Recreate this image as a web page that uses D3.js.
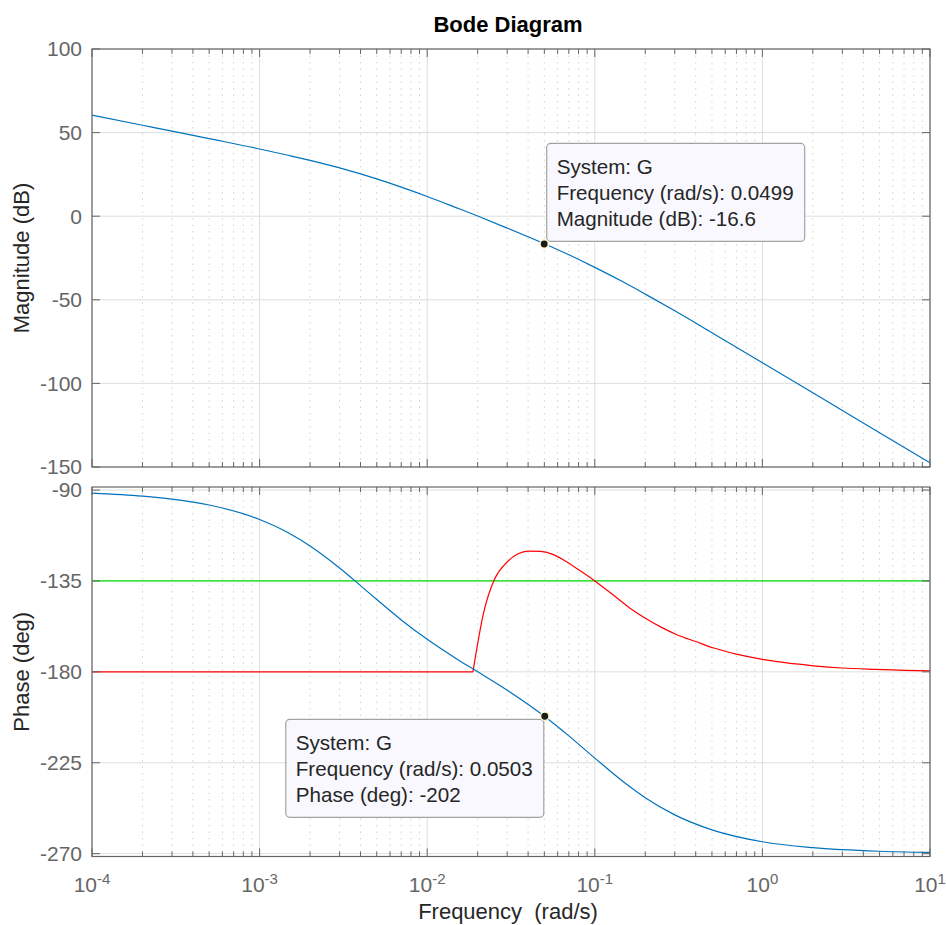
<!DOCTYPE html>
<html lang="en">
<head>
<meta charset="UTF-8" />
<title>Bode Diagram</title>
<script src="https://d3js.org/d3.v7.min.js"></script>
<style>
  body { margin: 0; background: #fff; font-family: 'Liberation Sans', Arial, sans-serif; }
  svg { display: block; }
</style>
</head>
<body>
<div id="chart"></div>
<script>
// ---- values ----
// G magnitude (dB)
const magFreq = [1e-4, 2e-4, 3e-4, 5e-4, 1e-3, 1.5e-3, 2e-3, 3e-3, 5e-3, 7e-3, 1e-2, 1.5e-2, 2e-2, 3e-2,
                 5e-2, 7e-2, 0.1, 0.15, 0.2, 0.3, 0.5, 1, 2, 3, 5, 10];
const magDb = [60.4, 54.4, 50.9, 46.4, 40.2, 36.3, 33.4, 28.9, 22.3, 17.4, 11.8, 5.0, 0.1, -7.1,
               -16.5, -23.1, -30.6, -39.7, -46.6, -56.6, -69.7, -87.6, -105.6, -116.2, -129.5, -147.5];

// G phase (deg)
const phaseFreq = [1e-4, 2e-4, 3e-4, 5e-4, 1e-3, 1.5e-3, 2e-3, 3e-3, 4e-3, 5e-3, 7e-3, 1e-2, 1.5e-2, 2e-2,
                   3e-2, 5e-2, 7e-2, 0.1, 0.15, 0.2, 0.3, 0.5, 1, 2, 5, 10];
const phaseDeg = [-91.5, -93.0, -94.5, -97.4, -104.6, -111.4, -117.7, -128.6, -137.3, -144.2, -154.3, -163.9, -173.6, -180.0,
                  -189.1, -202.0, -211.7, -222.7, -234.8, -242.3, -250.8, -258.2, -264.1, -267.0, -268.8, -269.4];

// red phase curve: flat part, then the bump from the corner on
const redFlatFreq = [1e-4, 0.01875];
const redFlatDeg = [-180, -180];
const redBumpFreq = [0.01875, 0.0217, 0.0252, 0.0297, 0.0346, 0.0403, 0.0473, 0.0556, 0.0652, 0.0819, 0.1,
                     0.13, 0.163, 0.205, 0.25, 0.309, 0.4, 0.512, 0.7, 1.0, 1.4, 2.02, 3, 4.66, 7, 10];
const redBumpDeg = [-180, -150.8, -134.2, -126.0, -121.7, -120.2, -120.4, -121.7, -124.6, -130.0, -135.0,
                    -142.2, -148.6, -154.0, -158.0, -161.6, -165.0, -168.2, -171.2, -173.8, -175.6, -177.0, -178.1, -178.8, -179.3, -179.5];

// green reference line
const refPhase = -135;

const magTicks = [100, 50, 0, -50, -100, -150];
const phaseTicks = [-90, -135, -180, -225, -270];
const decadeExps = [-4, -3, -2, -1, 0, 1];

const magTipText = ["System: G", "Frequency (rad/s): 0.0499", "Magnitude (dB): -16.6"];
const magTipPoint = [0.0499, -16.6];
const phaseTipText = ["System: G", "Frequency (rad/s): 0.0503", "Phase (deg): -202"];
const phaseTipPoint = [0.0503, -202];

// ---- layout ----
const width = 946, height = 925;
const left = 92, right = 930;
const magTop = 49, magBottom = 467;
const phTop = 487, phBottom = 856.5;

const axisColor = "#666";
const gridColor = "#dedede";
const minorColor = "#d2d2d2";
const blue = "#0072BD";

const svg = d3.select("#chart").append("svg")
  .attr("width", width)
  .attr("height", height);

const x = d3.scaleLog().domain([1e-4, 10]).range([left, right]);
const yMag = d3.scaleLinear().domain([-150, 100]).range([magBottom, magTop]);
const yPh = d3.scaleLinear().domain([-271.4, -88.5]).range([phBottom, phTop]);

const majors = decadeExps.map(e => Math.pow(10, e));
const minors = [];
decadeExps.slice(0, -1).forEach(e => {
  for (let k = 2; k <= 9; k++) minors.push(k * Math.pow(10, e));
});

function drawPanel(y, top, bottom, ticks) {
  const g = svg.append("g");

  // minor vertical grid (dotted)
  g.append("g").selectAll("line").data(minors).join("line")
    .attr("x1", d => x(d)).attr("x2", d => x(d))
    .attr("y1", top).attr("y2", bottom)
    .attr("stroke", minorColor)
    .attr("stroke-width", 1)
    .attr("stroke-dasharray", "1.5,5");

  // major grid
  g.append("g").selectAll("line").data(majors).join("line")
    .attr("x1", d => x(d)).attr("x2", d => x(d))
    .attr("y1", top).attr("y2", bottom)
    .attr("stroke", gridColor);

  g.append("g").selectAll("line").data(ticks).join("line")
    .attr("x1", left).attr("x2", right)
    .attr("y1", d => y(d)).attr("y2", d => y(d))
    .attr("stroke", gridColor);

  return g;
}

function drawFrame(y, top, bottom, ticks, showX) {
  const g = svg.append("g").attr("fill", "none").attr("stroke", axisColor);

  // inward ticks on all four sides
  const xt = majors.map(v => ({ v, len: 8 })).concat(minors.map(v => ({ v, len: 5 })));
  xt.forEach(t => {
    g.append("line").attr("x1", x(t.v)).attr("x2", x(t.v)).attr("y1", bottom).attr("y2", bottom - t.len);
    g.append("line").attr("x1", x(t.v)).attr("x2", x(t.v)).attr("y1", top).attr("y2", top + t.len);
  });
  ticks.forEach(t => {
    g.append("line").attr("x1", left).attr("x2", left + 8).attr("y1", y(t)).attr("y2", y(t));
    g.append("line").attr("x1", right).attr("x2", right - 8).attr("y1", y(t)).attr("y2", y(t));
  });

  g.append("rect")
    .attr("x", left).attr("y", top)
    .attr("width", right - left).attr("height", bottom - top)
    .attr("stroke-width", 1.2);

  // y tick labels
  svg.append("g").selectAll("text").data(ticks).join("text")
    .attr("x", left - 10)
    .attr("y", d => y(d))
    .attr("dy", "0.35em")
    .attr("text-anchor", "end")
    .attr("font-size", 21)
    .attr("fill", axisColor)
    .text(d => d);

  if (showX) {
    const lab = svg.append("g").selectAll("text").data(decadeExps).join("text")
      .attr("x", d => x(Math.pow(10, d)))
      .attr("y", bottom + 35)
      .attr("text-anchor", "middle")
      .attr("font-size", 21)
      .attr("fill", axisColor);
    lab.append("tspan").text("10");
    lab.append("tspan").attr("font-size", 15).attr("dy", -8).text(d => d);
  }
}

function drawLine(xs, ys, y, color, curve) {
  const line = d3.line()
    .x(d => x(d[0]))
    .y(d => y(d[1]))
    .curve(curve);
  svg.append("path")
    .datum(xs.map((f, i) => [f, ys[i]]))
    .attr("fill", "none")
    .attr("stroke", color)
    .attr("stroke-width", 1.2)
    .attr("d", line);
}

function drawTip(point, lines, y, placeAbove) {
  const px = x(point[0]), py = y(point[1]);
  const bw = 258, bh = 98;
  const bx = placeAbove ? px + 2.5 : px - bw - 1;
  const by = placeAbove ? py - bh - 2.5 : py + 3;

  svg.append("rect")
    .attr("x", bx).attr("y", by)
    .attr("width", bw).attr("height", bh)
    .attr("rx", 4)
    .attr("fill", "#f8f8fe")
    .attr("stroke", "#a3a3a3")
    .attr("stroke-width", 1.2);

  svg.append("g").selectAll("text").data(lines).join("text")
    .attr("x", bx + 10)
    .attr("y", (d, i) => by + 31 + i * 26)
    .attr("font-size", 20.6)
    .attr("fill", "#262626")
    .text(d => d);

  svg.append("circle")
    .attr("cx", px).attr("cy", py)
    .attr("r", 4.2)
    .attr("fill", "#1a1a1a")
    .attr("stroke", "#fff8c8")
    .attr("stroke-width", 1.5);
}

// magnitude panel
drawPanel(yMag, magTop, magBottom, magTicks);
drawLine(magFreq, magDb, yMag, blue, d3.curveMonotoneX);
drawFrame(yMag, magTop, magBottom, magTicks, false);

// phase panel
drawPanel(yPh, phTop, phBottom, phaseTicks);
svg.append("line")
  .attr("x1", left).attr("x2", right)
  .attr("y1", yPh(refPhase)).attr("y2", yPh(refPhase))
  .attr("stroke", "#00e000").attr("stroke-width", 1.2);
drawLine(redFlatFreq, redFlatDeg, yPh, "#ff0000", d3.curveLinear);
drawLine(redBumpFreq, redBumpDeg, yPh, "#ff0000", d3.curveMonotoneX);
drawLine(phaseFreq, phaseDeg, yPh, blue, d3.curveMonotoneX);
drawFrame(yPh, phTop, phBottom, phaseTicks, true);

// data tips
drawTip(magTipPoint, magTipText, yMag, true);
drawTip(phaseTipPoint, phaseTipText, yPh, false);

// titles and labels
svg.append("text")
  .attr("x", (left + right) / 2 - 3).attr("y", 32)
  .attr("text-anchor", "middle")
  .attr("font-size", 22).attr("font-weight", "bold")
  .attr("fill", "#000")
  .text("Bode Diagram");

svg.append("text")
  .attr("x", (left + right) / 2 - 3).attr("y", 919)
  .attr("text-anchor", "middle")
  .attr("font-size", 22)
  .attr("fill", "#262626")
  .style("white-space", "pre")
  .text("Frequency  (rad/s)");

[["Magnitude (dB)", (magTop + magBottom) / 2], ["Phase (deg)", (phTop + phBottom) / 2]].forEach(([t, cy]) => {
  svg.append("text")
    .attr("transform", `translate(29,${cy}) rotate(-90)`)
    .attr("text-anchor", "middle")
    .attr("font-size", 22)
    .attr("fill", "#262626")
    .text(t);
});
</script>
</body>
</html>
